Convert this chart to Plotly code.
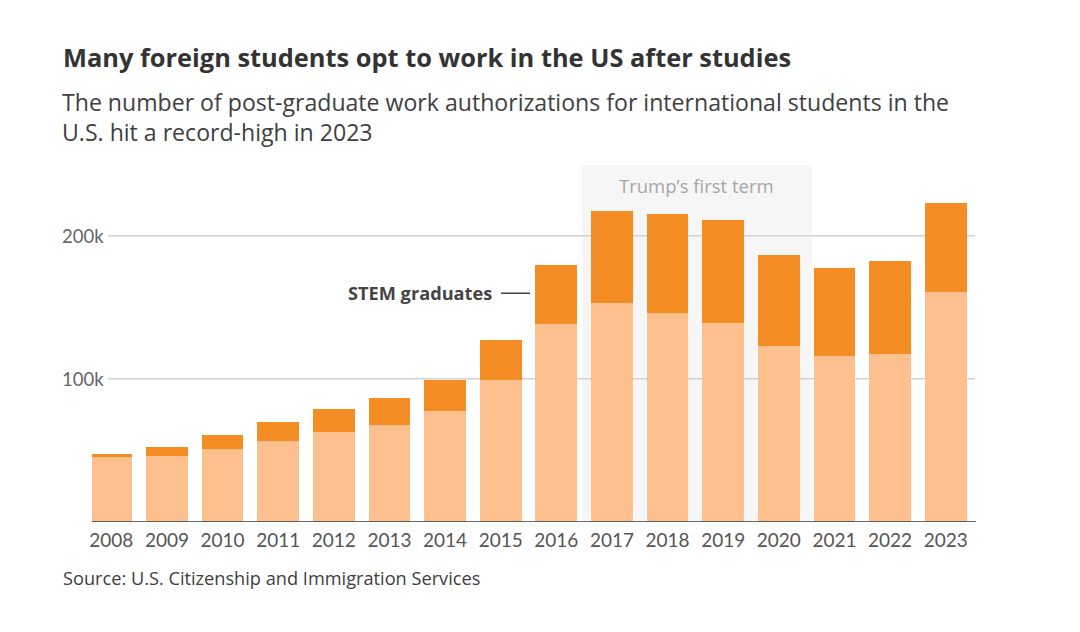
import plotly.graph_objects as go

years = [str(y) for y in range(2008, 2024)]
non_stem = [45.7, 46.4, 51.3, 56.4, 62.7, 67.8, 77.6, 99.5, 138.0, 152.9, 145.7, 139.2, 123.1, 115.9, 117.7, 160.8]
total = [47.8, 52.4, 60.6, 70.1, 78.8, 86.7, 99.3, 127.1, 179.2, 217.3, 215.4, 211.2, 186.7, 177.4, 182.3, 222.9]
stem = [round(t - n, 1) for t, n in zip(total, non_stem)]
y_ticks = [100, 200]
y_tick_labels = ["100k", "200k"]

W, H = 1080, 632
L, R = 92, 976          # plot area in px
T, B = 165, 521.7
xr = [-0.347, 15.544]
yr = [0, 249.4]

def ax(xp):
    return (xp - L) / (R - L)
def ay(yp):
    return (B - yp) / (B - T)

LIGHT = "#FEC08E"
DARK = "#F48D24"
NUMF = "Lato"
TXTF = "Open Sans"

idx = list(range(len(years)))
fig = go.Figure()
fig.add_trace(go.Bar(x=idx, y=non_stem, marker=dict(color=LIGHT, line=dict(width=0)),
                     width=0.75, name="Other", hoverinfo="skip"))
fig.add_trace(go.Bar(x=idx, y=stem, marker=dict(color=DARK, line=dict(width=0)),
                     width=0.75, name="STEM graduates", hoverinfo="skip"))

shapes = []
shapes.append(dict(type="rect", xref="x", yref="paper", x0=8.467, x1=12.59, y0=0, y1=1,
                   fillcolor="#F6F6F6", line=dict(width=0), layer="below"))
for v in y_ticks:
    shapes.append(dict(type="line", xref="paper", yref="y", x0=ax(108), x1=ax(975),
                       y0=v, y1=v, line=dict(color="#D2D2D2", width=1.5), layer="below"))
shapes.append(dict(type="line", xref="paper", yref="y", x0=0, x1=1, y0=0, y1=0,
                   line=dict(color="#3A3A3A", width=1.6), layer="above"))
shapes.append(dict(type="line", xref="x", yref="y", x0=(501 - 111.3) / 55.63, x1=(530 - 111.3) / 55.63,
                   y0=159.8, y1=159.8, line=dict(color="#444444", width=1.5)))

ann = []
ann.append(dict(text="<b>Many foreign students opt to work in the US after studies</b>", xref="paper", yref="paper",
                x=ax(61), y=ay(57), xanchor="left", yanchor="middle", showarrow=False,
                font=dict(family=TXTF, size=25.4, color="#333333")))
ann.append(dict(text="The number of post-graduate work authorizations for international students in the<br>U.S. hit a record-high in 2023",
                xref="paper", yref="paper", x=ax(60), y=ay(84), xanchor="left", yanchor="top", showarrow=False,
                align="left", font=dict(family=TXTF, size=23.1, color="#404040")))
ann.append(dict(text="Source: U.S. Citizenship and Immigration Services", xref="paper", yref="paper",
                x=ax(61), y=ay(578), xanchor="left", yanchor="middle", showarrow=False,
                font=dict(family=TXTF, size=18.2, color="#404040")))
ann.append(dict(text="Trump\u2019s first term", xref="x", yref="paper", x=(8.467 + 12.59) / 2, y=ay(185),
                xanchor="center", yanchor="middle", showarrow=False,
                font=dict(family=TXTF, size=18.5, color="#A6A6A6")))
ann.append(dict(text="<b>STEM graduates</b>", xref="x", yref="y", x=(494 - 111.3) / 55.63, y=159.8,
                xanchor="right", yanchor="middle", showarrow=False,
                font=dict(family=TXTF, size=18.2, color="#444444")))
for v, lab in zip(y_ticks, y_tick_labels):
    ann.append(dict(text=lab, xref="paper", yref="y", x=ax(60), y=v, xanchor="left", yanchor="middle",
                    showarrow=False, font=dict(family=NUMF, size=18.5, color="#666666")))

fig.update_layout(
    width=W, height=H, barmode="stack", showlegend=False,
    paper_bgcolor="white", plot_bgcolor="rgba(0,0,0,0)",
    margin=dict(l=L, r=W - R, t=T, b=H - B),
    shapes=shapes, annotations=ann,
    xaxis=dict(range=xr, tickmode="array", tickvals=idx, ticktext=years, showgrid=False,
               zeroline=False, showline=False, ticks="", ticklen=0, ticklabelstandoff=5,
               tickfont=dict(family=NUMF, size=19, color="#555555")),
    yaxis=dict(range=yr, showgrid=False, zeroline=False, showticklabels=False, showline=False),
    font=dict(family=TXTF),
)
fig.write_html("out.html", config={"displayModeBar": False},
               post_script="document.body.style.margin='0px';")
